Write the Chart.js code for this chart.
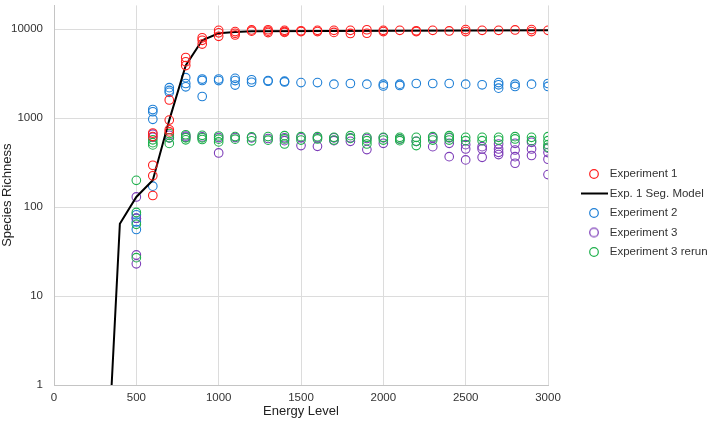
<!DOCTYPE html>
<html><head><meta charset="utf-8">
<script src="https://cdn.jsdelivr.net/npm/chart.js@4"></script>
<style>html,body{margin:0;padding:0;background:#fff}</style>
</head><body>
<canvas id="c" width="709" height="426"></canvas>
<script>
const xTickValues = [0, 500, 1000, 1500, 2000, 2500, 3000];
const yTickValues = [1, 10, 100, 1000, 10000];

const exp1Levels = [600,700,800,900,1000,1100,1200,1300,1400,1500,1600,1700,1800,1900,2000,2100,2200,2300,2400,2500,2600,2700,2800,2900,3000];
const exp1Values = [
  [680,620,295,225,135],[1600,950,740,700],[4800,4300,3900],[8000,7500,6800],
  [9700,9100,8300],[9400,9000,8600],[9800,9500],[9850,9500,9150],[9700,9400,9200],
  [9600,9400],[9700,9400],[9700,9200],[9700,8950],[9850,9000],[9700,9400],[9700],
  [9600,9400],[9700],[9550],[9900,9400],[9700],[9700],[9800],[9900,9400],[9700]
];

const modelEnergy = [350,400,500,600,700,800,900,1000,1100,1200,3000];
const modelRichness = [1,65,130,200,950,3900,7500,9000,9300,9450,9700];

const levels = [500,600,700,800,900,1000,1100,1200,1300,1400,1500,1600,1700,1800,1900,2000,2100,2200,2300,2400,2500,2600,2700,2800,2900,3000];
const exp2Values = [
  [82,75,68,56],[1250,1180,970,172],[2200,2050,1950],[2850,2450,2250],[2750,2650,1750],
  [2750,2640],[2800,2640,2350],[2700,2530],[2640,2600],[2600,2550],[2510],[2510],[2410],
  [2450],[2410],[2410,2300],[2410,2330],[2450],[2450],[2450],[2410],[2370],
  [2510,2370,2170],[2410,2270],[2410],[2450,2270]
];
const exp3Values = [
  [130,75,29,23],[660,610],[640,600],[630,610],[615],[605,406],[605],[600],[590],
  [600,558],[600,491],[600,482],[600,558],[600,548],[590,443],[600,521],[583],[548],
  [600,478],[600,521,369],[503,450,339],[478,450,363],[512,450,413,389],
  [521,438,369,311],[535,450,380],[460,410,345,232]
];
const exp3RerunValues = [
  [200,87,64,27],[570,530,500],[670,600,520],[650,600,570],[640,600,575],[630,580,540],
  [620,580],[615,555],[620,565],[635,583,512],[619,567],[619,583],[608,567],[635,592],
  [608,558,512],[608,567],[608,583,558],[608,548,491],[619,567],[635,608,567],[608,558],
  [608,558],[608,567],[619,583],[608,558],[619,558,503,470]
];

const FONT = "'Liberation Sans', Arial, Helvetica, sans-serif";
const COLORS = { exp1: '#ff1e1e', model: '#000000', exp2: '#1e7fd6', exp3: '#7d3db8', rerun: '#1eb04c' };

function toPoints(lv, vals) {
  const out = [];
  lv.forEach((x, i) => vals[i].forEach(y => out.push({ x: x, y: y })));
  return out;
}

function circleSwatch(color) {
  const c = document.createElement('canvas');
  c.width = 12; c.height = 12;
  const g = c.getContext('2d');
  g.strokeStyle = color; g.lineWidth = 1.2;
  g.beginPath(); g.arc(6, 6, 4.3, 0, Math.PI * 2); g.stroke();
  return c;
}
function lineSwatch(color) {
  const c = document.createElement('canvas');
  c.width = 27; c.height = 4;
  const g = c.getContext('2d');
  g.fillStyle = color; g.fillRect(0, 1, 27, 2);
  return c;
}
const swatches = [circleSwatch(COLORS.exp1), lineSwatch(COLORS.model), circleSwatch(COLORS.exp2), circleSwatch(COLORS.exp3), circleSwatch(COLORS.rerun)];

const scatterStyle = (color) => ({
  type: 'scatter', showLine: false, pointStyle: 'circle', pointRadius: 4.3, pointHoverRadius: 4.3,
  borderColor: color, backgroundColor: 'rgba(0,0,0,0)', pointBorderWidth: 1.1, borderWidth: 1.1
});

new Chart(document.getElementById('c'), {
  type: 'scatter',
  data: {
    datasets: [
      Object.assign({ label: 'Experiment 1', data: toPoints(exp1Levels, exp1Values), order: 0 }, scatterStyle(COLORS.exp1)),
      { type: 'line', label: 'Exp. 1 Seg. Model', data: modelEnergy.map((x, i) => ({ x: x, y: modelRichness[i] })),
        borderColor: COLORS.model, backgroundColor: COLORS.model, borderWidth: 2, pointRadius: 0, tension: 0, fill: false, order: 1 },
      Object.assign({ label: 'Experiment 2', data: toPoints(levels, exp2Values), order: 4 }, scatterStyle(COLORS.exp2)),
      Object.assign({ label: 'Experiment 3', data: toPoints(levels, exp3Values), order: 3 }, scatterStyle(COLORS.exp3)),
      Object.assign({ label: 'Experiment 3 rerun', data: toPoints(levels, exp3RerunValues), order: 2 }, scatterStyle(COLORS.rerun))
    ]
  },
  options: {
    responsive: false,
    animation: false,
    devicePixelRatio: 1,
    layout: { padding: { top: 0, right: 0, bottom: 0, left: 0 } },
    scales: {
      x: {
        type: 'linear', min: 0, max: 3000,
        afterBuildTicks: s => { s.ticks = xTickValues.map(v => ({ value: v })); },
        ticks: { font: { family: FONT, size: 11.5 }, color: '#333', padding: 6, maxRotation: 0, callback: v => String(v) },
        grid: { color: '#dcdcdc', drawTicks: false },
        border: { color: '#c4c4c4' },
        title: { display: true, text: 'Energy Level', font: { family: FONT, size: 13 }, color: '#222', padding: { top: 0, bottom: 7 } },
        afterFit: s => { s.height = 41; s.paddingLeft = 0; }
      },
      y: {
        type: 'logarithmic', min: 1, max: 18500,
        afterBuildTicks: s => { s.ticks = yTickValues.map(v => ({ value: v })); },
        ticks: { font: { family: FONT, size: 11.5 }, color: '#333', padding: 11, callback: v => String(v) },
        grid: { color: '#dcdcdc', drawTicks: false },
        border: { color: '#c4c4c4' },
        title: { display: true, text: 'Species Richness', font: { family: FONT, size: 13 }, color: '#222', padding: { top: 0, bottom: 0 } },
        afterFit: s => { s.width = 54; s.paddingTop = 0; s.paddingBottom = 0; }
      },
      spacer: {
        type: 'linear', position: 'right', display: true,
        grid: { display: false, drawTicks: false }, ticks: { display: false }, border: { display: false },
        afterFit: s => { s.width = 28; s.paddingTop = 0; s.paddingBottom = 0; }
      }
    },
    plugins: {
      tooltip: { enabled: false },
      legend: {
        position: 'right', align: 'center', maxWidth: 133,
        labels: {
          usePointStyle: true, pointStyleWidth: 20, boxHeight: 12, padding: 8,
          font: { family: FONT, size: 11.5 }, color: '#333',
          sort: (a, b) => a.datasetIndex - b.datasetIndex,
          generateLabels: chart => Chart.defaults.plugins.legend.labels.generateLabels(chart).map(it => {
            it.pointStyle = swatches[it.datasetIndex];
            return it;
          })
        }
      }
    }
  }
});
</script>
</body></html>
